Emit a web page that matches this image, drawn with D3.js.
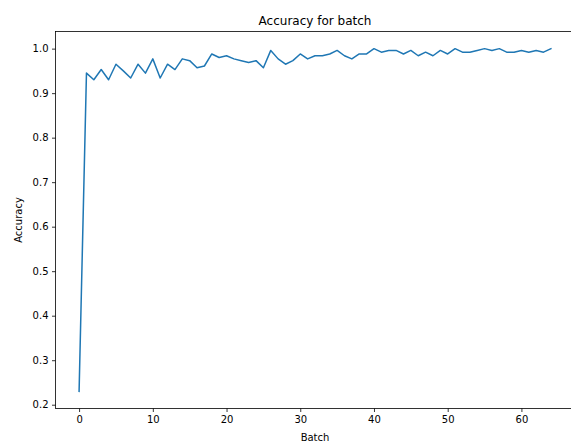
<!DOCTYPE html>
<html>
<head>
<meta charset="utf-8">
<script src="https://cdn.jsdelivr.net/npm/d3@7"></script>
<style>
  body { margin: 0; background: #fff; }
  svg { display: block; font-family: "DejaVu Sans", sans-serif; }
</style>
</head>
<body>
<div id="chart"></div>
<script>
// accuracy per batch
var batches = d3.range(0, 65);
var accuracy = [
  0.23, 0.945, 0.93, 0.953, 0.93, 0.965, 0.95, 0.934, 0.965, 0.945,
  0.977, 0.934, 0.965, 0.953, 0.977, 0.973, 0.957, 0.961, 0.988, 0.98,
  0.984, 0.977, 0.973, 0.969, 0.973, 0.957, 0.996, 0.977, 0.965, 0.973,
  0.988, 0.977, 0.984, 0.984, 0.988, 0.996, 0.984, 0.977, 0.988, 0.988,
  1.0, 0.992, 0.996, 0.996, 0.988, 0.996, 0.984, 0.992, 0.984, 0.996,
  0.988, 1.0, 0.992, 0.992, 0.996, 1.0, 0.996, 1.0, 0.992, 0.992,
  0.996, 0.992, 0.996, 0.992, 1.0
];
var xTicks = [0, 10, 20, 30, 40, 50, 60];
var yTicks = [0.2, 0.3, 0.4, 0.5, 0.6, 0.7, 0.8, 0.9, 1.0];

var data = batches.map(function(b, i) { return {batch: b, acc: accuracy[i]}; });

var W = 571, H = 443;
var axLeft = 55.5, axTop = 31.5, axRight = 574.5, axBottom = 408.5;

var svg = d3.select("#chart").append("svg")
   .attr("width", W)
   .attr("height", H);

// matplotlib style 5% margins
var xr = d3.extent(batches), xpad = (xr[1] - xr[0]) * 0.05;
var yr = d3.extent(accuracy), ypad = (yr[1] - yr[0]) * 0.05;

var x = d3.scaleLinear()
   .domain([xr[0] - xpad, xr[1] + xpad])
   .range([axLeft, axRight]);
var y = d3.scaleLinear()
   .domain([yr[0] - ypad, yr[1] + ypad])
   .range([axBottom, axTop]);

// the line
svg.append("path")
   .datum(data)
   .attr("fill", "none")
   .attr("stroke", "#1f77b4")
   .attr("stroke-width", 1.5)
   .attr("stroke-linejoin", "round")
   .attr("stroke-linecap", "square")
   .attr("d", d3.line()
      .x(function(d) { return x(d.batch); })
      .y(function(d) { return y(d.acc); }));

// axes
var xAxis = svg.append("g")
   .attr("transform", "translate(0," + axBottom + ")")
   .call(d3.axisBottom(x).tickValues(xTicks).tickSizeInner(3.5).tickSizeOuter(0).tickPadding(3.5));
var yAxis = svg.append("g")
   .attr("transform", "translate(" + axLeft + ",0)")
   .call(d3.axisLeft(y).tickValues(yTicks).tickFormat(d3.format(".1f")).tickSizeInner(3.5).tickSizeOuter(0).tickPadding(3.5));

[xAxis, yAxis].forEach(function(g) {
   g.select(".domain").remove();
   g.selectAll(".tick line").attr("stroke", "#000").attr("stroke-width", 0.8);
   g.selectAll(".tick text")
      .attr("fill", "#000")
      .style("font-family", "DejaVu Sans")
      .style("font-size", "10px");
});

// spines
svg.append("rect")
   .attr("x", axLeft)
   .attr("y", axTop)
   .attr("width", axRight - axLeft)
   .attr("height", axBottom - axTop)
   .attr("fill", "none")
   .attr("stroke", "#000")
   .attr("stroke-width", 0.8);

// labels
svg.append("text")
   .attr("x", (axLeft + axRight) / 2)
   .attr("y", axTop - 7)
   .attr("text-anchor", "middle")
   .style("font-size", "12px")
   .text("Accuracy for batch");

svg.append("text")
   .attr("x", (axLeft + axRight) / 2)
   .attr("y", 441)
   .attr("text-anchor", "middle")
   .style("font-size", "10px")
   .text("Batch");

svg.append("text")
   .attr("transform", "translate(22," + ((axTop + axBottom) / 2) + ") rotate(-90)")
   .attr("text-anchor", "middle")
   .style("font-size", "10px")
   .text("Accuracy");
</script>
</body>
</html>
